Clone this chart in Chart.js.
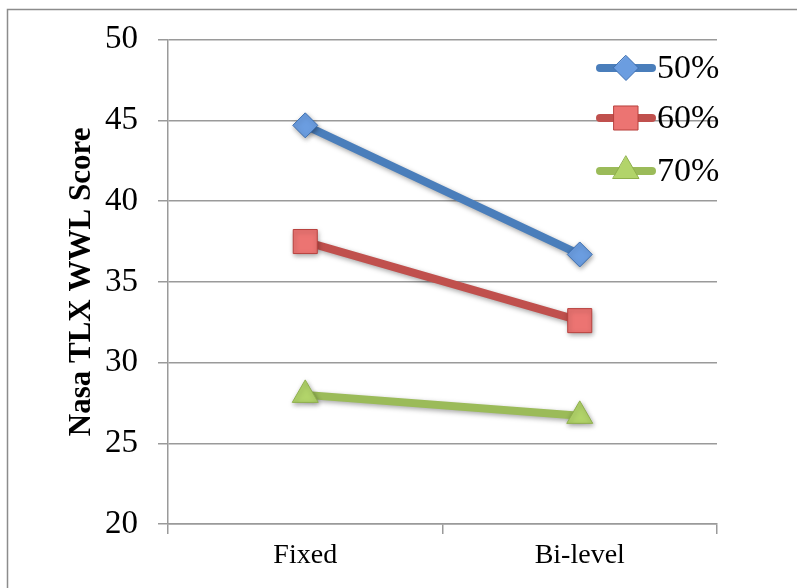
<!DOCTYPE html>
<html>
<head>
<meta charset="utf-8">
<script src="https://cdn.jsdelivr.net/npm/chart.js@4.4.1/dist/chart.umd.min.js"></script>
<style>
  html, body { margin: 0; padding: 0; background: #fff; }
  #wrap { width: 797px; height: 588px; }
</style>
</head>
<body>
<div id="wrap"><canvas id="chart" width="797" height="588"></canvas></div>
<script>
const categories = ["Fixed", "Bi-level"];
const seriesNames = ["50%", "60%", "70%"];
const scores50 = [44.7, 36.7];
const scores60 = [37.5, 32.6];
const scores70 = [28.0, 26.7];
const yTicks = [20, 25, 30, 35, 40, 45, 50];

const lineColors = ["#4a7ebb", "#c0504d", "#9bbb59"];
const fillColors = ["#6b9de0", "#ec7472", "#b2d46a"];
const edgeColors = ["#3d6fb0", "#b8403d", "#8fb04c"];
const markers = ["rectRot", "rect", "triangle"];
const markerSizes = [12.5, 17, 15];

const SERIF = "'Liberation Serif', 'Times New Roman', serif";
const GRID = "#9a9a9a";

function drawMarker(ctx, style, x, y, r) {
  ctx.beginPath();
  if (style === "rectRot") {
    ctx.moveTo(x, y - r); ctx.lineTo(x + r, y); ctx.lineTo(x, y + r); ctx.lineTo(x - r, y);
  } else if (style === "rect") {
    const s = Math.SQRT1_2 * r;
    ctx.rect(x - s, y - s, 2 * s, 2 * s);
  } else {
    const a = Math.PI * 2 / 3;
    ctx.moveTo(x, y - r);
    ctx.lineTo(x + Math.sin(a) * r, y - Math.cos(a) * r);
    ctx.lineTo(x + Math.sin(2 * a) * r, y - Math.cos(2 * a) * r);
  }
  ctx.closePath();
  ctx.fill();
  ctx.stroke();
}

// frame around the figure, shadows on the series, and the legend
const decor = {
  id: "decor",
  beforeDraw(chart) {
    const ctx = chart.ctx;
    ctx.save();
    ctx.strokeStyle = "#8c8c8c";
    ctx.lineWidth = 1.5;
    ctx.strokeRect(7.5, 9.5, 900, 700);
    ctx.restore();
  },
  beforeDatasetsDraw(chart) {
    const ctx = chart.ctx;
    ctx.save();
    ctx.shadowColor = "rgba(0,0,0,0.35)";
    ctx.shadowBlur = 5;
    ctx.shadowOffsetX = 1;
    ctx.shadowOffsetY = 2;
  },
  afterDatasetsDraw(chart) {
    chart.ctx.restore();
  },
  afterDraw(chart) {
    const ctx = chart.ctx;
    const rows = [68, 118, 171];
    ctx.save();
    seriesNames.forEach((name, i) => {
      const y = rows[i];
      ctx.strokeStyle = lineColors[i];
      ctx.lineWidth = 8;
      ctx.lineCap = "round";
      ctx.beginPath();
      ctx.moveTo(600, y);
      ctx.lineTo(652, y);
      ctx.stroke();
      ctx.fillStyle = fillColors[i];
      ctx.strokeStyle = edgeColors[i];
      ctx.lineWidth = 1;
      drawMarker(ctx, markers[i], 626, y, markerSizes[i]);
      ctx.fillStyle = "#000";
      ctx.font = "34px " + SERIF;
      ctx.textBaseline = "middle";
      ctx.textAlign = "left";
      ctx.fillText(name, 657, y + 1);
    });
    ctx.restore();
  }
};

const allSeries = [scores50, scores60, scores70];

new Chart(document.getElementById("chart"), {
  type: "line",
  data: {
    labels: categories,
    datasets: allSeries.map((vals, i) => ({
      label: seriesNames[i],
      data: vals,
      borderColor: lineColors[i],
      borderWidth: 8,
      borderCapStyle: "round",
      pointStyle: markers[i],
      pointRadius: markerSizes[i],
      pointHoverRadius: markerSizes[i],
      pointBackgroundColor: fillColors[i],
      pointBorderColor: edgeColors[i],
      pointBorderWidth: 1,
      tension: 0
    }))
  },
  options: {
    responsive: false,
    animation: false,
    layout: { padding: { top: 38, right: 80, left: 0, bottom: 0 } },
    plugins: { legend: { display: false }, tooltip: { enabled: false } },
    scales: {
      x: {
        offset: true,
        grid: { offset: true, drawOnChartArea: false, color: GRID, lineWidth: 1.5, tickLength: 10 },
        border: { color: GRID, width: 1.5 },
        ticks: { color: "#000", font: { family: SERIF, size: 28 }, padding: 5 },
        afterFit(axis) { axis.height = 64; }
      },
      y: {
        min: 20,
        max: 50,
        afterBuildTicks(axis) { axis.ticks = yTicks.map(v => ({ value: v })); },
        grid: { color: GRID, lineWidth: 1.5, tickLength: 10 },
        border: { color: GRID, width: 1.5 },
        ticks: { color: "#000", font: { family: SERIF, size: 33 }, padding: 20 },
        title: {
          display: true,
          text: "Nasa TLX WWL Score",
          color: "#000",
          font: { family: SERIF, size: 31, weight: "bold" },
          padding: { top: 63, bottom: 0 }
        },
        afterFit(axis) { axis.width = 168; }
      }
    }
  },
  plugins: [decor]
});
</script>
</body>
</html>
